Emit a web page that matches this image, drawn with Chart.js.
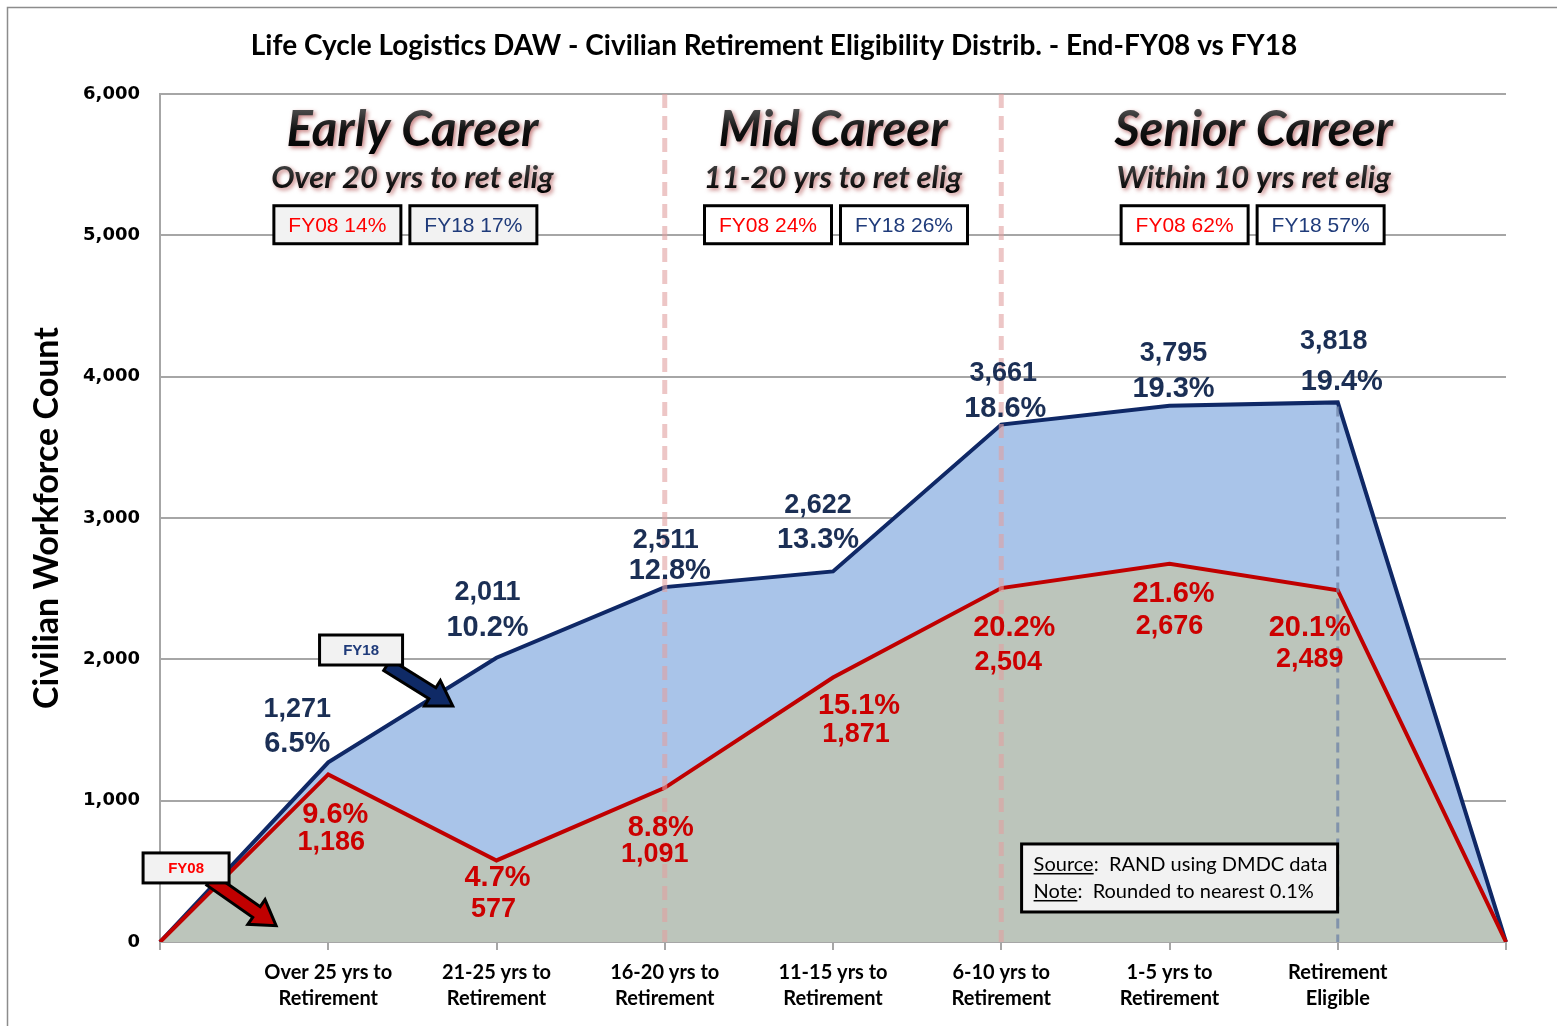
<!DOCTYPE html>
<html lang="en">
<head>
<meta charset="UTF-8">
<title>Civilian Retirement Eligibility Distribution</title>
<script src="https://cdn.jsdelivr.net/npm/chart.js"></script>
<style>
  html, body { margin: 0; padding: 0; background: #fff; }
  #wrap { width: 1557px; height: 1026px; position: relative; }
</style>
</head>
<body>
<div id="wrap"><canvas id="myChart"></canvas></div>
<script>
// --- data ---
const categories = ['', ['Over 25 yrs to', 'Retirement'], ['21-25 yrs to', 'Retirement'], ['16-20 yrs to', 'Retirement'],
  ['11-15 yrs to', 'Retirement'], ['6-10 yrs to', 'Retirement'], ['1-5 yrs to', 'Retirement'], ['Retirement', 'Eligible'], ''];
const fy18Counts = [0, 1271, 2011, 2511, 2622, 3661, 3795, 3818, 0];
const fy08Counts = [0, 1186, 577, 1091, 1871, 2504, 2676, 2489, 0];
const fy18Pct = [null, 6.5, 10.2, 12.8, 13.3, 18.6, 19.3, 19.4, null];
const fy08Pct = [null, 9.6, 4.7, 8.8, 15.1, 20.2, 21.6, 20.1, null];

const careerTitles = ['Early Career', 'Mid Career', 'Senior Career'];
const careerSubtitles = ['Over 20 yrs to ret elig', '11-20 yrs to ret elig', 'Within 10 yrs ret elig'];
const careerFy08Share = [14, 24, 62];
const careerFy18Share = [17, 26, 57];

const chartTitle = 'Life Cycle Logistics DAW - Civilian Retirement Eligibility Distrib. - End-FY08 vs FY18';

// label nudges (px) so the labels sit like in the original: [dx, dy line1, dy line2, dx line2]
const fy18Nudge = [null, [-31, -53, -18, 0], [-9, -65, -30, 0], [1, -47, -16, 4], [-15, -66, -31, 0], [2, -51, -16, 2], [4, -52, -17, 0], [-4, -61, -20, 8], null];
const fy08Nudge = [null, [7, 41, 68, -4], [1, 18, 49, -4], [-4, 40, 67, -6], [26, 28, 57, -3], [13, 40, 74, -6], [4, 30, 63, -4], [-28, 38, 69, 0], null];
// sideways shift of the share boxes under each heading
const careerBoxShift = [-7, 3, -1];

const NAVY = '#0f2866';
const NAVY_TXT = '#1b2f55';
const RED = '#c00000';
const RED_TXT = '#cc0000';

const fmt = n => n.toLocaleString('en-US');

function blockArrow(ctx, x1, y1, x2, y2, shaft, head, headLen, fill) {
  const a = Math.atan2(y2 - y1, x2 - x1);
  const len = Math.hypot(x2 - x1, y2 - y1);
  ctx.save();
  ctx.translate(x1, y1);
  ctx.rotate(a);
  ctx.beginPath();
  ctx.moveTo(0, -shaft / 2);
  ctx.lineTo(len - headLen, -shaft / 2);
  ctx.lineTo(len - headLen, -head / 2);
  ctx.lineTo(len, 0);
  ctx.lineTo(len - headLen, head / 2);
  ctx.lineTo(len - headLen, shaft / 2);
  ctx.lineTo(0, shaft / 2);
  ctx.closePath();
  ctx.fillStyle = fill;
  ctx.fill();
  ctx.lineWidth = 3;
  ctx.strokeStyle = '#000';
  ctx.stroke();
  ctx.restore();
}

function textBox(ctx, cx, cy, w, h, text, color, font, bg) {
  ctx.save();
  ctx.fillStyle = bg;
  ctx.fillRect(cx - w / 2, cy - h / 2, w, h);
  ctx.lineWidth = 3;
  ctx.strokeStyle = '#000';
  ctx.strokeRect(cx - w / 2, cy - h / 2, w, h);
  ctx.fillStyle = color;
  ctx.font = font;
  ctx.textAlign = 'center';
  ctx.textBaseline = 'middle';
  ctx.fillText(text, cx, cy + 1);
  ctx.restore();
}

const extras = {
  id: 'extras',
  afterDatasetsDraw(chart) {
    const ctx = chart.ctx;
    const xs = chart.scales.x, ys = chart.scales.y;
    const area = chart.chartArea;

    // dashed separators between career groups
    ctx.save();
    ctx.setLineDash([14, 8]);
    ctx.lineWidth = 5;
    ctx.strokeStyle = 'rgba(225,160,160,0.6)';
    [3, 5].forEach(i => {
      const px = xs.getPixelForValue(i);
      ctx.beginPath();
      ctx.moveTo(px, area.top);
      ctx.lineTo(px, area.bottom);
      ctx.stroke();
    });
    // drop line under retirement eligible
    ctx.setLineDash([10, 6]);
    ctx.lineWidth = 3;
    ctx.strokeStyle = 'rgba(110,130,165,0.75)';
    const pe = xs.getPixelForValue(7);
    ctx.beginPath();
    ctx.moveTo(pe, ys.getPixelForValue(fy18Counts[7]) + 4);
    ctx.lineTo(pe, area.bottom);
    ctx.stroke();
    ctx.restore();

    // data labels
    ctx.save();
    ctx.textAlign = 'center';
    ctx.textBaseline = 'middle';
    fy18Counts.forEach((v, i) => {
      if (fy18Pct[i] === null) return;
      const px = xs.getPixelForValue(i), py = ys.getPixelForValue(v);
      const n = fy18Nudge[i];
      ctx.fillStyle = NAVY_TXT;
      ctx.font = 'bold 27px "Liberation Sans", Arial, sans-serif';
      ctx.fillText(fmt(v), px + n[0], py + n[1]);
      ctx.font = 'bold 29px "Liberation Sans", Arial, sans-serif';
      ctx.fillText(fy18Pct[i].toFixed(1) + '%', px + n[0] + n[3], py + n[2]);
    });
    fy08Counts.forEach((v, i) => {
      if (fy08Pct[i] === null) return;
      const px = xs.getPixelForValue(i), py = ys.getPixelForValue(v);
      const n = fy08Nudge[i];
      ctx.fillStyle = RED_TXT;
      ctx.font = 'bold 29px "Liberation Sans", Arial, sans-serif';
      ctx.fillText(fy08Pct[i].toFixed(1) + '%', px + n[0], py + n[1]);
      ctx.font = 'bold 27px "Liberation Sans", Arial, sans-serif';
      ctx.fillText(fmt(v), px + n[0] + n[3], py + n[2]);
    });
    ctx.restore();
  },
  afterDraw(chart) {
    const ctx = chart.ctx;
    const xs = chart.scales.x, ys = chart.scales.y;
    const X = i => xs.getPixelForValue(i);
    const Y = v => ys.getPixelForValue(v);

    // outer frame
    ctx.save();
    ctx.strokeStyle = '#8c8c8c';
    ctx.lineWidth = 1.5;
    ctx.strokeRect(7.5, 7.5, chart.width + 10, chart.height + 10);
    ctx.restore();

    // main title
    ctx.save();
    ctx.fillStyle = '#000';
    ctx.font = 'bold 28px Lato, sans-serif';
    ctx.textAlign = 'center';
    ctx.textBaseline = 'middle';
    ctx.fillText(chartTitle, 774, 46);
    ctx.restore();

    // career group headings
    const centers = [1.5, 4, 6.5];
    careerTitles.forEach((t, k) => {
      const cx = X(centers[k]);
      ctx.save();
      ctx.textAlign = 'center';
      ctx.textBaseline = 'middle';
      ctx.shadowColor = 'rgba(150,20,20,0.55)';
      ctx.shadowBlur = 4;
      ctx.shadowOffsetX = 2;
      ctx.shadowOffsetY = 2;
      let hy = Y(5745);
      let g = ctx.createLinearGradient(0, hy - 24, 0, hy + 24);
      g.addColorStop(0, '#555');
      g.addColorStop(0.5, '#111');
      g.addColorStop(1, '#000');
      ctx.fillStyle = g;
      ctx.font = 'italic bold 49px Lato, sans-serif';
      ctx.fillText(t, cx, hy);
      const sy = Y(5405);
      g = ctx.createLinearGradient(0, sy - 15, 0, sy + 15);
      g.addColorStop(0, '#444');
      g.addColorStop(1, '#000');
      ctx.fillStyle = g;
      ctx.font = 'italic bold 31px Lato, sans-serif';
      ctx.fillText(careerSubtitles[k], cx, sy);
      ctx.restore();

      const by = Y(5075);
      const bx = cx + careerBoxShift[k];
      const bg = k === 0 ? '#f2f2f2' : '#ffffff';
      textBox(ctx, bx - 68, by, 127, 38, 'FY08 ' + careerFy08Share[k] + '%', '#ff0000', '21px "Liberation Sans", Arial, sans-serif', bg);
      textBox(ctx, bx + 68, by, 127, 38, 'FY18 ' + careerFy18Share[k] + '%', '#1f3b7a', '21px "Liberation Sans", Arial, sans-serif', bg);
    });

    // series callouts
    blockArrow(ctx, X(1.35), Y(1960), X(1.74), Y(1670), 13, 30, 24, '#0f2a66');
    textBox(ctx, X(1.195), Y(2066), 83, 30, 'FY18', '#1f3b7a', 'bold 15px "Liberation Sans", Arial, sans-serif', '#f2f2f2');
    blockArrow(ctx, X(0.3), Y(440), X(0.69), Y(115), 13, 30, 24, '#c00000');
    textBox(ctx, X(0.155), Y(524), 86, 30, 'FY08', '#ff0000', 'bold 15px "Liberation Sans", Arial, sans-serif', '#f2f2f2');

    // source note
    const sx = X(6.06), sy = Y(453);
    ctx.save();
    ctx.fillStyle = '#f2f2f2';
    ctx.fillRect(sx - 158, sy - 34, 316, 68);
    ctx.lineWidth = 3;
    ctx.strokeStyle = '#000';
    ctx.strokeRect(sx - 158, sy - 34, 316, 68);
    ctx.fillStyle = '#000';
    ctx.font = '20px Lato, sans-serif';
    ctx.textBaseline = 'alphabetic';
    const lines = [['Source', ':  RAND using DMDC data'], ['Note', ':  Rounded to nearest 0.1%']];
    lines.forEach((ln, j) => {
      const lx = sx - 146, ly = sy - 7 + j * 27;
      ctx.fillText(ln[0], lx, ly);
      const w = ctx.measureText(ln[0]).width;
      ctx.fillRect(lx, ly + 2, w, 1.5);
      ctx.fillText(ln[1], lx + w, ly);
    });
    ctx.restore();
  }
};

new Chart(document.getElementById('myChart'), {
  type: 'line',
  data: {
    labels: categories,
    datasets: [
      {
        label: 'FY08',
        data: fy08Counts,
        borderColor: RED,
        backgroundColor: '#bcc5bb',
        borderWidth: 4,
        fill: 'origin',
        pointRadius: 0,
        tension: 0
      },
      {
        label: 'FY18',
        data: fy18Counts,
        borderColor: NAVY,
        backgroundColor: '#a9c4e9',
        borderWidth: 4,
        fill: 'origin',
        pointRadius: 0,
        tension: 0
      }
    ]
  },
  options: {
    responsive: true,
    maintainAspectRatio: false,
    animation: false,
    layout: { padding: { top: 94, right: 51, left: 0, bottom: 0 } },
    plugins: {
      legend: { display: false },
      title: { display: false },
      tooltip: { enabled: false }
    },
    scales: {
      x: {
        offset: false,
        grid: { drawOnChartArea: false, drawTicks: true, tickLength: 8, color: '#a6a6a6', lineWidth: 2 },
        border: { color: '#a6a6a6', width: 2 },
        ticks: {
          autoSkip: false,
          maxRotation: 0,
          padding: 10,
          color: '#000',
          font: { family: 'Lato, sans-serif', size: 20, weight: 'bold', lineHeight: 1.3 }
        },
        afterFit: s => { s.height = 84; }
      },
      y: {
        min: 0,
        max: 6000,
        ticks: {
          stepSize: 1000,
          padding: 20,
          color: '#000',
          font: { family: '"DejaVu Sans", Verdana, sans-serif', size: 18, weight: 'bold' },
          callback: v => fmt(v)
        },
        grid: { color: '#a6a6a6', lineWidth: 2, drawTicks: false },
        border: { color: '#a6a6a6', width: 2 },
        title: {
          display: true,
          text: 'Civilian Workforce Count',
          color: '#000',
          padding: { top: 27, bottom: 0 },
          font: { family: 'Lato, sans-serif', size: 34, weight: 'bold' }
        },
        afterFit: s => { s.width = 160; }
      }
    }
  },
  plugins: [extras]
});
</script>
</body>
</html>
